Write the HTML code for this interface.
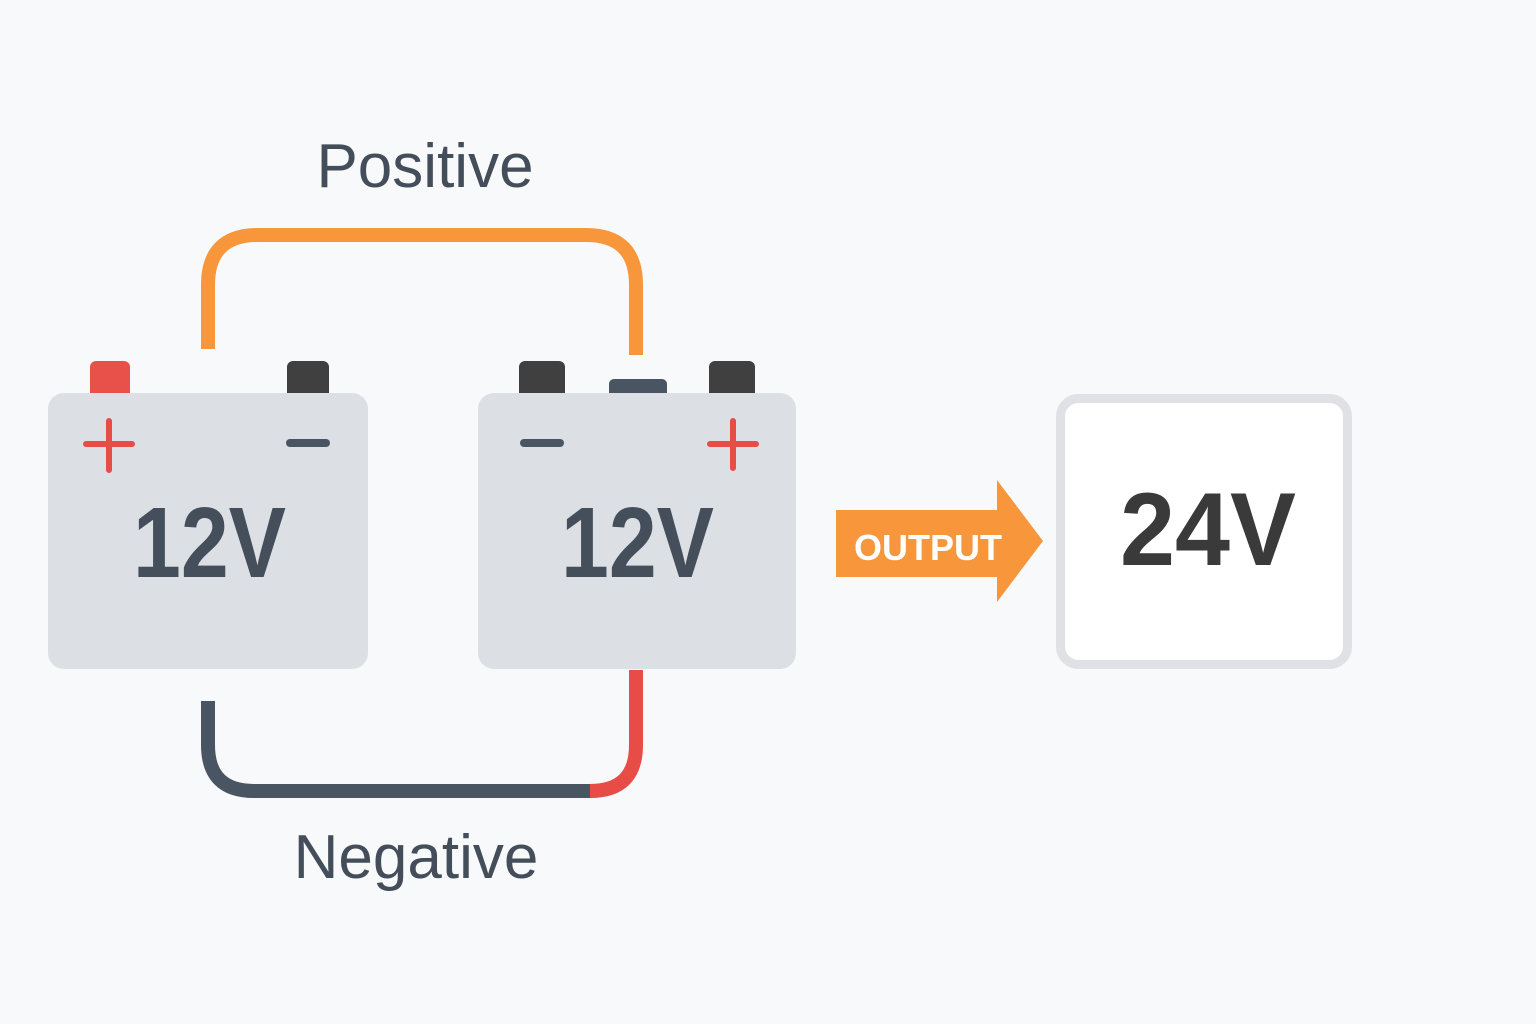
<!DOCTYPE html>
<html><head><meta charset="utf-8"><style>
html,body{margin:0;padding:0;background:#f8f9fa;}
svg{display:block}
</style></head><body>
<svg width="1536" height="1024" viewBox="0 0 1536 1024" xmlns="http://www.w3.org/2000/svg">
<rect width="1536" height="1024" fill="#f8f9fa"/>
<text x="425" y="187" font-family="Liberation Sans, sans-serif" font-size="62" fill="#434e5a" text-anchor="middle">Positive</text>
<text x="416" y="878" font-family="Liberation Sans, sans-serif" font-size="62" fill="#434e5a" text-anchor="middle">Negative</text>
<path d="M208 349 V285 Q208 235 258 235 H586 Q636 235 636 285 V355" fill="none" stroke="#f7963a" stroke-width="14"/>
<path d="M208 701 V745 Q208 791 254 791 H592" fill="none" stroke="#4a5563" stroke-width="14"/>
<path d="M590 791 Q636 791 636 745 V670" fill="none" stroke="#e84c47" stroke-width="14"/>
<!-- battery 1 -->
<rect x="90" y="361" width="40" height="40" rx="6" fill="#e8504a"/>
<rect x="287" y="361" width="42" height="40" rx="6" fill="#404040"/>
<rect x="48" y="393" width="320" height="276" rx="16" fill="#dcdfe4"/>
<path d="M86 444 H132 M109 421 V470" stroke="#e84c47" stroke-width="6" stroke-linecap="round"/>
<path d="M290 443 H326" stroke="#4a5563" stroke-width="8" stroke-linecap="round"/>
<text x="133" y="577" font-family="Liberation Sans, sans-serif" font-weight="bold" font-size="100" fill="#444f5b" textLength="153" lengthAdjust="spacingAndGlyphs">12V</text>
<!-- battery 2 -->
<rect x="519" y="361" width="46" height="40" rx="6" fill="#404040"/>
<rect x="609" y="379" width="58" height="22" rx="5" fill="#4a5563"/>
<rect x="709" y="361" width="46" height="40" rx="6" fill="#404040"/>
<rect x="478" y="393" width="318" height="276" rx="16" fill="#dcdfe4"/>
<path d="M524 443 H560" stroke="#4a5563" stroke-width="8" stroke-linecap="round"/>
<path d="M710 444 H756 M733 421 V468" stroke="#e84c47" stroke-width="6" stroke-linecap="round"/>
<text x="561" y="577" font-family="Liberation Sans, sans-serif" font-weight="bold" font-size="100" fill="#444f5b" textLength="153" lengthAdjust="spacingAndGlyphs">12V</text>
<!-- arrow -->
<path d="M836 510 H997 V480 L1043 541 L997 602 V577 H836 Z" fill="#f7963a"/>
<text x="928" y="560" font-family="Liberation Sans, sans-serif" font-weight="bold" font-size="36" fill="#ffffff" text-anchor="middle">OUTPUT</text>
<!-- output box -->
<rect x="1060.5" y="398.5" width="287" height="266" rx="18" fill="#ffffff" stroke="#dfe1e5" stroke-width="9"/>
<text x="1120" y="565" font-family="Liberation Sans, sans-serif" font-weight="bold" font-size="104" fill="#3a3a3a" textLength="176" lengthAdjust="spacingAndGlyphs">24V</text>
</svg>
</body></html>
